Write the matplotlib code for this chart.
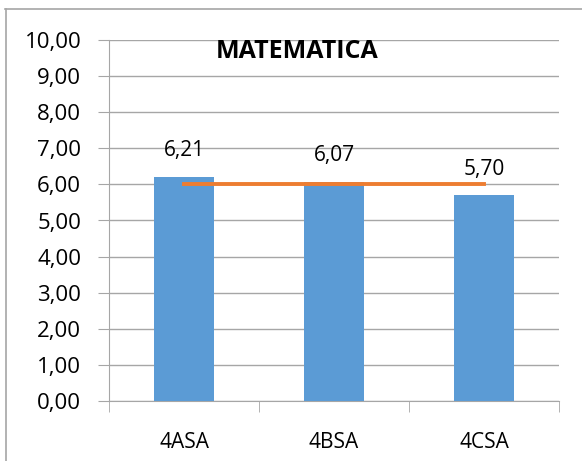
import matplotlib.pyplot as plt
from matplotlib.lines import Line2D

# dados
turmas = ['4ASA', '4BSA', '4CSA']
medias = [6.21, 6.07, 5.70]
referencia = [6.00, 6.00, 6.00]
rotulos = ['6,21', '6,07', '5,70']
yticks = [0, 1, 2, 3, 4, 5, 6, 7, 8, 9, 10]

plt.rcParams['font.family'] = ['Open Sans', 'DejaVu Sans']

fig = plt.figure(figsize=(5.82, 4.61), dpi=100)
W, H = 582, 461
ax = fig.add_axes([109 / W, 1 - 401 / H, (559 - 109) / W, (401 - 40) / H])

x = list(range(len(turmas)))
ax.bar(x, medias, width=0.4, color='#5B9BD5', zorder=3)
ax.plot(x, referencia, color='#ED7D31', linewidth=2.8, zorder=4)

for xi, v, r in zip(x, medias, rotulos):
    ax.text(xi, v + 0.72, r, ha='center', va='center', fontsize=15, color='#000000', zorder=5)

ax.set_xlim(-0.5, 2.5)
ax.set_ylim(0, 10)
ax.set_yticks(yticks)
ax.set_yticklabels([('%.2f' % t).replace('.', ',') for t in yticks])
ax.set_xticks(x)
ax.set_xticklabels(turmas)
ax.set_xticks([-0.5, 0.5, 1.5, 2.5], minor=True)

ax.grid(axis='y', color='#A6A6A6', linewidth=1, zorder=0)
ax.tick_params(axis='y', length=8, color='#A6A6A6', labelsize=16, pad=12)
ax.tick_params(axis='x', which='major', length=0, labelsize=15, pad=22)
ax.tick_params(axis='x', which='minor', length=8, color='#A6A6A6')
for s in ['top', 'right']:
    ax.spines[s].set_visible(False)
for s in ['left', 'bottom']:
    ax.spines[s].set_color('#A6A6A6')

ax.set_title('MATEMATICA', fontsize=18, fontweight='bold', x=(297 - 109) / (559 - 109), y=0.968, va='center', pad=0)

# borda do gráfico (apenas topo e esquerda visíveis)
fig.add_artist(Line2D([5 / W, 1], [1 - 9.5 / H, 1 - 9.5 / H], color='#A6A6A6', linewidth=1.2))
fig.add_artist(Line2D([5.5 / W, 5.5 / W], [0, 1 - 9.5 / H], color='#A6A6A6', linewidth=1.2))

fig.savefig('out.png', dpi=100)
